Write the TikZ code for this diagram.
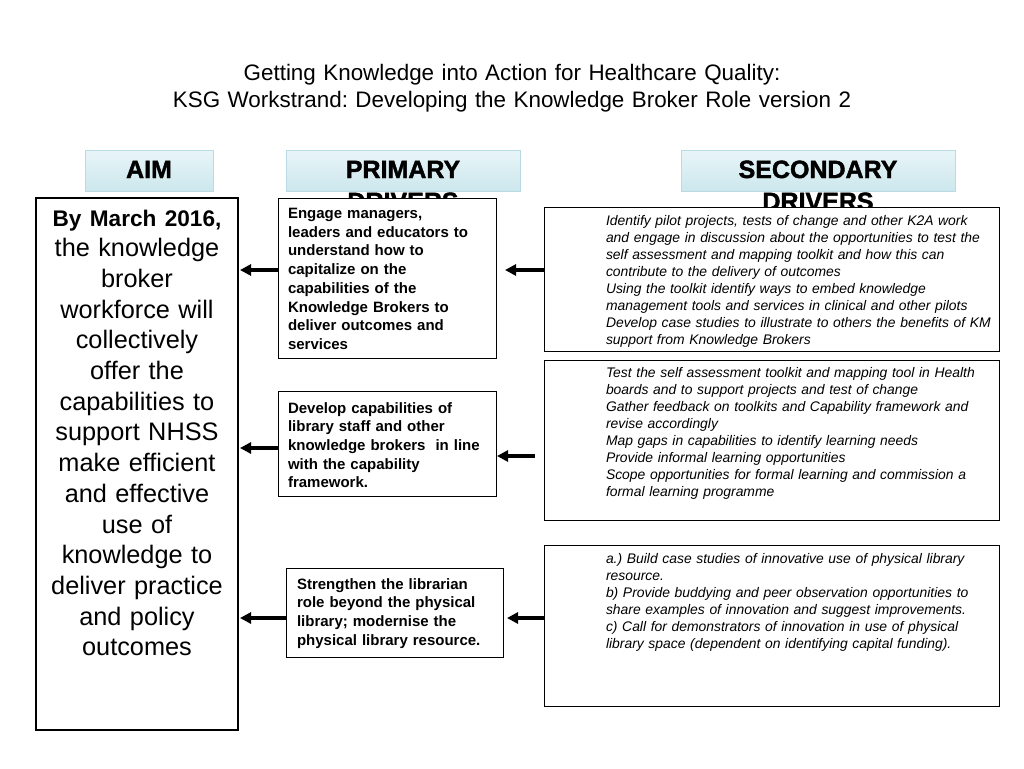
\documentclass[tikz,border=0pt]{standalone}
\usepackage{fontspec}
\setmainfont{Liberation Sans}
\newfontfamily\hdrfont{Liberation Sans}[BoldFeatures={FakeBold=1.6}]
\usetikzlibrary{positioning,arrows.meta}
\definecolor{hdrtop}{RGB}{232,245,248}
\definecolor{hdrbot}{RGB}{204,231,237}
\definecolor{hdrline}{RGB}{186,219,227}
\frenchspacing

\begin{document}
\begin{tikzpicture}[x=1pt, y=-1pt, >={Triangle[length=11pt, width=11pt]}]
  \tikzstyle{hdr}=[draw=hdrline, top color=hdrtop, bottom color=hdrbot, inner sep=0pt, minimum height=41pt, text height=28pt, text depth=13pt, align=center, font=\hdrfont\bfseries\fontsize{25}{32}\selectfont]
  \tikzstyle{pbox}=[draw, fill=white, line width=0.8pt, outer sep=0pt, anchor=north west, inner xsep=10pt, inner ysep=0pt, text width=198pt, align=left, font=\bfseries\fontsize{15}{18.7}\selectfont]
  \tikzstyle{sbox}=[draw, fill=white, line width=0.8pt, outer sep=0pt, anchor=north west, inner sep=0pt, text width=455pt, align=left, font=\itshape\fontsize{13.9}{17}\selectfont]
  \tikzstyle{drv}=[->, line width=3.2pt]

  \useasboundingbox (0,0) rectangle (1024,768);

  \node[text width=800pt, align=center, anchor=base, font=\fontsize{22.4}{28}\selectfont] (title) at (512,80)
    {Getting Knowledge into Action for Healthcare Quality:\\KSG Workstrand: Developing the Knowledge Broker Role version 2};

  % column headings
  \node[hdr, text width=128pt] (aimhdr) at (149,170.5) {AIM};
  \node[hdr, text width=234pt] (prihdr) at (403,170.5) {PRIMARY\\DRIVERS};
  \node[hdr, text width=274pt] (sechdr) at (818,170.5) {SECONDARY\\DRIVERS};

  % aim
  \node[draw, fill=white, line width=2.5pt, outer sep=0pt, anchor=north west, inner xsep=4pt, inner ysep=0pt, text width=194pt, align=center, text height=28pt, text depth=504pt, font=\fontsize{25.3}{30.7}\selectfont] (aim) at (36,198)
    {{\bfseries\fontsize{22.6}{30.7}\selectfont By March 2016,}\\the knowledge\\broker\\workforce will\\collectively\\offer the\\capabilities to\\support NHSS\\make efficient\\and effective\\use of\\knowledge to\\deliver practice\\and policy\\outcomes};

  % primary drivers
  \node[pbox, text height=20.5pt, text depth=139.5pt] (P1) at (278,198)
    {Engage managers,\\leaders and educators to\\understand how to\\capitalize on the\\capabilities of the\\Knowledge Brokers to\\deliver outcomes and\\services};
  \node[pbox, text height=22pt, text depth=83pt] (P2) at (278,391)
    {Develop capabilities of\\library staff and other\\knowledge brokers\ \ in line\\with the capability\\framework.};
  \node[pbox, inner xsep=11pt, text width=195pt, text height=21pt, text depth=68pt] (P3) at (286,568)
    {Strengthen the librarian\\role beyond the physical\\library; modernise the\\physical library resource.};

  % secondary drivers
  \node[sbox, text height=18pt, text depth=126pt] (S1) at (544,207)
    {\hspace*{62pt}\parbox[t]{420pt}{%
     Identify pilot projects, tests of change and other K2A work\\
     and engage in discussion about the opportunities to test the\\
     self assessment and mapping toolkit and how this can\\
     contribute to the delivery of outcomes\\
     Using the toolkit identify ways to embed knowledge\\
     management tools and services in clinical and other pilots\\
     Develop case studies to illustrate to others the benefits of KM\\
     support from Knowledge Brokers}};
  \node[sbox, text height=17pt, text depth=143pt] (S2) at (544,360)
    {\hspace*{62pt}\parbox[t]{420pt}{%
     Test the self assessment toolkit and mapping tool in Health\\
     boards and to support projects and test of change\\
     Gather feedback on toolkits and Capability framework and\\
     revise accordingly\\
     Map gaps in capabilities to identify learning needs\\
     Provide informal learning opportunities\\
     Scope opportunities for formal learning and commission a\\
     formal learning programme}};
  \node[sbox, text height=18pt, text depth=143pt] (S3) at (544,545)
    {\hspace*{62pt}\parbox[t]{420pt}{%
     a.) Build case studies of innovative use of physical library\\
     resource.\\
     b) Provide buddying and peer observation opportunities to\\
     share examples of innovation and suggest improvements.\\
     c) Call for demonstrators of innovation in use of physical\\
     library space (dependent on identifying capital funding).}};

  \draw[drv, shorten >=2pt] ([yshift=8pt]P1.west) -- ([yshift=8pt]P1.west -| aim.east);
  \draw[drv, shorten >=2pt] ([yshift=-4.5pt]P2.west) -- ([yshift=-4.5pt]P2.west -| aim.east);
  \draw[drv, shorten >=2pt] ([yshift=-5.5pt]P3.west) -- ([yshift=-5.5pt]P3.west -| aim.east);

  \draw[drv, shorten >=9pt] ([yshift=9pt]S1.west) -- ([yshift=9pt]S1.west -| P1.east);
  \draw[drv, shorten <=9pt, shorten >=1pt] ([yshift=-16pt]S2.west) -- ([yshift=-16pt]S2.west -| P2.east);
  \draw[drv, shorten >=4pt] ([yshift=7.5pt]S3.west) -- ([yshift=7.5pt]S3.west -| P3.east);
\end{tikzpicture}
\end{document}
